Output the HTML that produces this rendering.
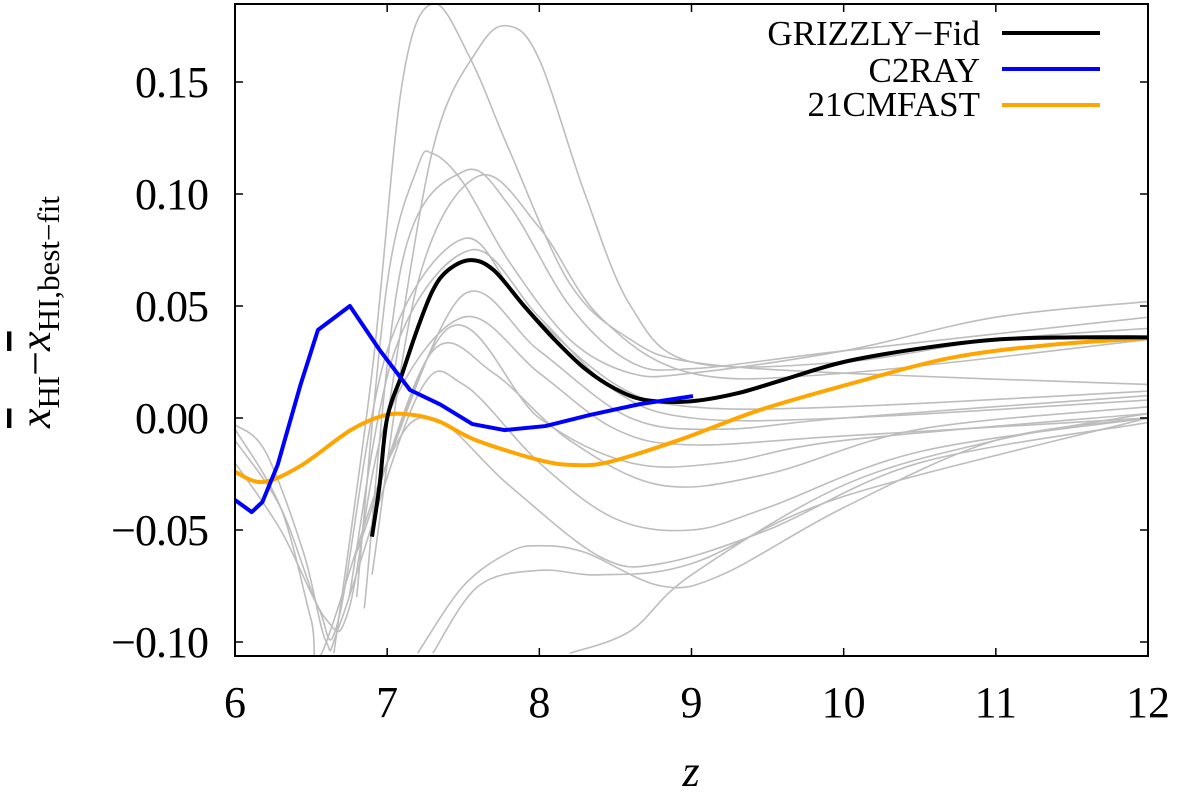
<!DOCTYPE html>
<html><head><meta charset="utf-8"><style>
body{margin:0;background:#fff}
svg{display:block;font-family:"Liberation Serif",serif}
</style></head><body>
<svg id="chart" width="1200" height="794">
<g id="grays"></g>
<g id="series"></g>
<rect x="235" y="4" width="913" height="652" fill="none" stroke="#000" stroke-width="2"/>
<g id="axes"></g>
<text x="691" y="786" font-size="44" font-style="italic" text-anchor="middle">z</text>
<text transform="translate(50,312) rotate(-90)" font-size="44" text-anchor="middle"><tspan font-style="italic" text-decoration="overline">x</tspan><tspan font-size="31" dy="9">HI</tspan><tspan dy="-9">−</tspan><tspan font-style="italic" text-decoration="overline">x</tspan><tspan font-size="31" dy="9">HI,best−fit</tspan></text>
<g>
<text x="980" y="45" font-size="35" text-anchor="end">GRIZZLY−Fid</text>
<line x1="1002" y1="33" x2="1100" y2="33" stroke="#000" stroke-width="4"/>
<text x="980" y="82" font-size="35" text-anchor="end">C2RAY</text>
<line x1="1002" y1="69" x2="1100" y2="69" stroke="#0000ff" stroke-width="4"/>
<text x="980" y="116" font-size="35" text-anchor="end">21CMFAST</text>
<line x1="1002" y1="105" x2="1100" y2="105" stroke="#ffa500" stroke-width="4"/>
</g>
</svg>
<script>
const xTicks=[6,7,8,9,10,11,12];
const yTicks=[-0.10,-0.05,0.00,0.05,0.10,0.15];
const yTickLabels=["−0.10","−0.05","0.00","0.05","0.10","0.15"];
const grizzlyZ=[6.9,6.95,7.0,7.1,7.2,7.3,7.4,7.55,7.7,7.9,8.1,8.3,8.5,8.7,9.0,9.3,9.6,10,10.5,11,11.5,12];
const grizzlyY=[-0.053,-0.03,0.0,0.02,0.04,0.057,0.066,0.0705,0.066,0.05,0.035,0.022,0.013,0.008,0.0075,0.011,0.017,0.025,0.031,0.035,0.036,0.036];
const c2rayZ=[6.0,6.11,6.18,6.28,6.43,6.545,6.755,6.95,7.15,7.35,7.56,7.77,8.04,8.33,8.66,9.01];
const c2rayY=[-0.0366,-0.042,-0.0375,-0.021,0.0147,0.0393,0.05,0.0304,0.0125,0.006,-0.0027,-0.0054,-0.0036,0.0013,0.0062,0.0098];
const cmfastZ=[6.0,6.18,6.43,6.76,6.99,7.18,7.35,7.58,8.0,8.23,8.46,8.92,9.45,10.04,10.7,11.35,12];
const cmfastY=[-0.024,-0.0286,-0.0214,-0.0054,0.0013,0.0013,-0.0018,-0.0098,-0.0188,-0.021,-0.0196,-0.0098,0.0036,0.0152,0.0268,0.0326,0.0357];
const grayCurves=[
[[6.65,-0.105],[6.9,0.02],[7.1,0.15],[7.3,0.185],[7.55,0.16],[7.8,0.12],[8.2,0.06],[8.6,0.035],[9,0.025],[10,0.02],[12,0.015]],
[[7.0,0.0],[7.3,0.12],[7.6,0.165],[7.8,0.175],[8.0,0.16],[8.3,0.1],[8.6,0.05],[9,0.025],[10,0.025],[11,0.035],[12,0.04]],
[[6.8,-0.08],[7.0,0.06],[7.2,0.112],[7.3,0.118],[7.5,0.105],[7.8,0.07],[8.2,0.035],[8.6,0.02],[9,0.02],[10,0.03],[11,0.045],[12,0.052]],
[[6.85,-0.085],[7.1,0.07],[7.5,0.11],[7.8,0.095],[8.2,0.05],[8.6,0.025],[9,0.022],[10,0.03],[12,0.045]],
[[6.9,-0.07],[7.2,0.06],[7.6,0.108],[8.0,0.085],[8.4,0.045],[9,0.02],[10,0.02],[12,0.035]],
[[6.0,-0.01],[6.3,-0.04],[6.55,-0.085],[6.68,-0.09],[7.0,0.03],[7.5,0.08],[7.9,0.05],[8.5,0.015],[9,0.005],[10,0.005],[12,0.012]],
[[6.75,-0.08],[7.05,0.03],[7.55,0.075],[8.0,0.045],[8.5,0.012],[9,0.0],[10,0.0],[12,0.008]],
[[6.0,-0.02],[6.3,-0.05],[6.6,-0.09],[6.75,-0.085],[7.0,0.0],[7.5,0.045],[8.0,0.02],[8.5,-0.005],[9,-0.012],[10,-0.008],[12,0.0]],
[[6.8,-0.06],[7.4,0.04],[8,0.0],[8.6,-0.02],[9.2,-0.02],[10,-0.01],[12,0.002]],
[[6.0,-0.003],[6.2,-0.015],[6.45,-0.06],[6.6,-0.1],[6.7,-0.09],[7.2,0.01],[7.5,0.015],[8.0,-0.02],[8.5,-0.045],[9.0,-0.05],[9.5,-0.04],[10.5,-0.015],[12,0.0]],
[[6.0,-0.005],[6.3,-0.04],[6.5,-0.09],[6.57,-0.105],[7.0,-0.02],[7.3,0.0],[7.8,-0.03],[8.4,-0.062],[8.8,-0.065],[9.5,-0.05],[10.5,-0.02],[12,-0.002]],
[[7.2,-0.105],[7.5,-0.075],[7.8,-0.06],[8.0,-0.057],[8.3,-0.06],[8.8,-0.075],[9.2,-0.07],[10,-0.04],[11,-0.01],[12,0.0]],
[[7.3,-0.105],[7.6,-0.075],[8.0,-0.068],[8.4,-0.07],[9.0,-0.065],[10,-0.035],[12,0.0]],
[[8.2,-0.105],[8.6,-0.095],[9.0,-0.07],[10,-0.03],[11,-0.01],[12,0.002]],
[[6.9,-0.04],[7.3,0.03],[7.7,0.02],[8.2,-0.01],[8.8,-0.03],[9.5,-0.025],[10.5,-0.005],[12,0.005]],
[[7.0,-0.02],[7.5,0.055],[8.0,0.03],[8.6,0.0],[9.2,-0.005],[10,0.0],[12,0.01]]
];
const X=z=>235+(z-6)*913/6;
const Y=v=>418-v*2240;
const NS="http://www.w3.org/2000/svg";
function smoothPath(pts){
  let d="M"+pts[0][0].toFixed(1)+","+pts[0][1].toFixed(1);
  for(let i=0;i<pts.length-1;i++){
    const p0=pts[Math.max(i-1,0)],p1=pts[i],p2=pts[i+1],p3=pts[Math.min(i+2,pts.length-1)];
    const c1=[p1[0]+(p2[0]-p0[0])/6,p1[1]+(p2[1]-p0[1])/6];
    const c2=[p2[0]-(p3[0]-p1[0])/6,p2[1]-(p3[1]-p1[1])/6];
    d+=" C"+c1.join(",")+" "+c2.join(",")+" "+p2[0]+","+p2[1];
  }
  return d;
}
const clip=document.createElementNS(NS,"clipPath");clip.setAttribute("id","pc");
const cr=document.createElementNS(NS,"rect");cr.setAttribute("x",235);cr.setAttribute("y",4);cr.setAttribute("width",913);cr.setAttribute("height",652);
clip.appendChild(cr);document.getElementById("chart").appendChild(clip);
const gg=document.getElementById("grays");gg.setAttribute("clip-path","url(#pc)");
grayCurves.forEach((c,i)=>{
  const p=document.createElementNS(NS,"path");
  p.setAttribute("d",smoothPath(c.map(q=>[X(q[0]),Y(q[1])])));
  p.setAttribute("fill","none");p.setAttribute("stroke","#bdbdbd");p.setAttribute("stroke-width","1.6");
  
  
  gg.appendChild(p);
});
const sg=document.getElementById("series");sg.setAttribute("clip-path","url(#pc)");
function addLine(zs,ys,color,name,smooth){
  const pts=zs.map((z,i)=>[X(z),Y(ys[i])]);
  const p=document.createElementNS(NS,"path");
  p.setAttribute("d",smooth?smoothPath(pts):"M"+pts.map(q=>q.join(",")).join(" L"));
  p.setAttribute("fill","none");p.setAttribute("stroke",color);p.setAttribute("stroke-width","4");p.setAttribute("stroke-linejoin","round");
  
  
  sg.appendChild(p);
}
addLine(cmfastZ,cmfastY,"#ffa500","series-21cmfast",true);
addLine(grizzlyZ,grizzlyY,"#000","series-grizzly-fid",true);
addLine(c2rayZ,c2rayY,"#0000ff","series-c2ray",false);
const ax=document.getElementById("axes");
xTicks.forEach(t=>{
  const x=X(t);
  [[656,648],[4,12]].forEach(([a,b])=>{const l=document.createElementNS(NS,"line");l.setAttribute("x1",x);l.setAttribute("x2",x);l.setAttribute("y1",a);l.setAttribute("y2",b);l.setAttribute("stroke","#000");l.setAttribute("stroke-width","1.5");
  
  
  ax.appendChild(l);});
  const tx=document.createElementNS(NS,"text");tx.setAttribute("x",x);tx.setAttribute("y",717);tx.setAttribute("font-size","44");tx.setAttribute("text-anchor","middle");tx.textContent=t;
  
  
  ax.appendChild(tx);
});
yTicks.forEach((t,i)=>{
  const y=Y(t);
  [[235,243],[1148,1140]].forEach(([a,b])=>{const l=document.createElementNS(NS,"line");l.setAttribute("x1",a);l.setAttribute("x2",b);l.setAttribute("y1",y);l.setAttribute("y2",y);l.setAttribute("stroke","#000");l.setAttribute("stroke-width","1.5");
  
  
  ax.appendChild(l);});
  const tx=document.createElementNS(NS,"text");tx.setAttribute("x",208);tx.setAttribute("y",y+15);tx.setAttribute("font-size","44");tx.setAttribute("text-anchor","end");tx.setAttribute("letter-spacing","-1");tx.textContent=yTickLabels[i];
  
  
  ax.appendChild(tx);
});
</script>
</body></html>
